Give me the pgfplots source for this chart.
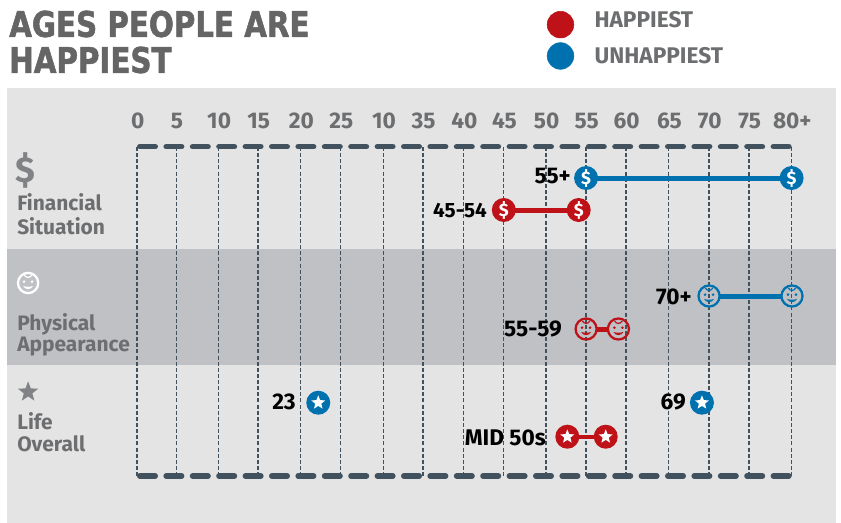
\documentclass[border=0pt]{standalone}
\usepackage{fontspec}
\setmainfont{Fira Sans}[BoldFont={Fira Sans Bold}]
\newfontfamily\titlefont{DejaVu Sans}[FakeStretch=0.83,FakeBold=1.5]
\newfontfamily\firab{Fira Sans Bold}
\usepackage{pgfplots}
\pgfplotsset{compat=1.18}
\usetikzlibrary{plotmarks}
\definecolor{bgl}{HTML}{E4E4E4}
\definecolor{bgd}{HTML}{C0C1C5}
\definecolor{gridc}{HTML}{41525E}
\definecolor{txtg}{HTML}{6D6E70}
\definecolor{ttl}{HTML}{656565}
\definecolor{happy}{HTML}{BE1118}
\definecolor{unhappy}{HTML}{0071AF}
\definecolor{icong}{HTML}{808285}
% plot marks
\pgfdeclareplotmark{dollarc}{%
  \pgfpathcircle{\pgfpointorigin}{\pgfplotmarksize}\pgfusepathqfill
  \pgftext{\color{white}\firab\fontsize{13.5pt}{14pt}\selectfont\$}%
}
\pgfdeclareplotmark{starc}{%
  \pgfpathcircle{\pgfpointorigin}{\pgfplotmarksize}\pgfusepathqfill
  \pgfscope
  \pgfsetfillcolor{white}%
  \pgfpathmoveto{\pgfpointpolar{90}{5.5pt}}%
  \foreach \a/\r in {126/2.4,162/5.5,198/2.4,234/5.5,270/2.4,306/5.5,342/2.4,18/5.5,54/2.4}{\pgfpathlineto{\pgfpointpolar{\a}{\r pt}}}%
  \pgfpathclose\pgfusepathqfill
  \endpgfscope
}
\pgfdeclareplotmark{solidstar}{%
  \pgfpathmoveto{\pgfpointpolar{90}{\pgfplotmarksize}}%
  \pgfmathsetlengthmacro{\rin}{0.42*\pgfplotmarksize}%
  \foreach \a/\r in {126/\rin,162/\pgfplotmarksize,198/\rin,234/\pgfplotmarksize,270/\rin,306/\pgfplotmarksize,342/\rin,18/\pgfplotmarksize,54/\rin}{\pgfpathlineto{\pgfpointpolar{\a}{\r}}}%
  \pgfpathclose\pgfusepathqfill
}
\pgfdeclareplotmark{facec}{%
  \pgfpathcircle{\pgfpointorigin}{\pgfplotmarksize}\pgfusepathqstroke
  \pgfpathcircle{\pgfpoint{-3pt}{1.0pt}}{1.1pt}\pgfpathcircle{\pgfpoint{3pt}{1.0pt}}{1.1pt}\pgfusepathqfill
  \pgfpathmoveto{\pgfpoint{-3.8pt}{-2.2pt}}\pgfpathcurveto{\pgfpoint{-1.6pt}{-3.0pt}}{\pgfpoint{1.6pt}{-3.0pt}}{\pgfpoint{3.8pt}{-2.2pt}}%
  \pgfpathcurveto{\pgfpoint{2.2pt}{-5.4pt}}{\pgfpoint{-2.2pt}{-5.4pt}}{\pgfpoint{-3.8pt}{-2.2pt}}\pgfusepathqfill
  \pgfscope
  \pgfsetlinewidth{0.9pt}%
  \pgfpathmoveto{\pgfpoint{-2.8pt}{6.0pt}}\pgfpathcurveto{\pgfpoint{-1.5pt}{3.6pt}}{\pgfpoint{1.5pt}{3.6pt}}{\pgfpoint{2.8pt}{6.0pt}}\pgfusepathqstroke
  \endpgfscope
}
\begin{document}
\begin{tikzpicture}
\path[use as bounding box] (0pt,0pt) rectangle (630.75pt,-392.25pt);
\begin{scope}[x=0.75pt,y=-0.75pt]
  \fill[bgl] (7,88) rectangle (836,523);
  \fill[bgd] (7,249) rectangle (836,365);
  \node[anchor=west,text=ttl,font=\titlefont\bfseries\fontsize{26.5pt}{27pt}\selectfont,inner sep=0pt] at (9,24) {AGES PEOPLE ARE};
  \node[anchor=west,text=ttl,font=\titlefont\bfseries\fontsize{26.5pt}{27pt}\selectfont,inner sep=0pt] at (9,60) {HAPPIEST};
\end{scope}
\begin{axis}[
  at={(102.75pt,-357pt)},anchor=south west,
  scale only axis,width=491.25pt,height=246.75pt,
  xmin=0,xmax=80,ymin=147,ymax=476,y dir=reverse,
  clip=false,
  axis line style={draw=none},
  major tick length=0pt,
  ytick=\empty,
  xtick={0,4.80,9.95,14.77,20.00,24.88,30.10,34.93,39.90,44.80,49.95,54.85,59.73,64.95,69.87,74.75,79.95},
  xticklabels={0,5,10,15,20,25,10,35,40,45,50,55,60,65,70,75,80+},
  xticklabel pos=upper,
  xticklabel style={font=\firab\fontsize{17pt}{17pt}\selectfont,text=txtg,yshift=10.4pt,xshift=0.5pt},
  xmajorgrids,
  grid style={draw=gridc,line width=0.9pt,dash pattern=on 3pt off 1.6pt},
  legend style={draw=none,fill=none,at={(0.6258,1.0)},anchor=north west,yshift=103.75pt,
    font=\firab\fontsize{17pt}{17pt}\selectfont,text=txtg,row sep=3.5pt,inner sep=0pt,
    legend cell align=left,/tikz/every odd column/.append style={column sep=13.5pt}},
  legend image code/.code={\path[#1] plot coordinates {(0.15cm,0cm)};},
]
\addlegendimage{only marks,mark=*,mark size=10pt,color=happy,yshift=-3pt}
\addlegendentry{HAPPIEST}
\addlegendimage{only marks,mark=*,mark size=10pt,color=unhappy}
\addlegendentry{UNHAPPIEST}
% Financial situation
\addplot[forget plot,color=unhappy,line width=3.75pt,mark=dollarc,mark size=9pt] coordinates {(54.85,178) (79.95,178)};
\addplot[forget plot,color=happy,line width=3.75pt,mark=dollarc,mark size=9pt] coordinates {(44.80,210) (53.95,210)};
% Physical appearance
\addplot[forget plot,color=unhappy,line width=3.75pt,shorten >=8pt,shorten <=8pt,mark=facec,mark size=7.9pt,mark options={line width=1.7pt,fill=unhappy,draw=unhappy}] coordinates {(69.87,296) (80,296)};
\addplot[forget plot,color=happy,line width=3.75pt,shorten >=8pt,shorten <=8pt,mark=facec,mark size=7.9pt,mark options={line width=1.7pt,fill=happy,draw=happy}] coordinates {(54.85,329) (58.8,329)};
% Life overall
\addplot[forget plot,only marks,color=unhappy,mark=starc,mark size=9pt] coordinates {(22.14,402.7) (69,402.7)};
\addplot[forget plot,color=happy,line width=3pt,mark=starc,mark size=9pt] coordinates {(52.56,436.7) (57.25,436.7)};
% side icons
\addplot[forget plot,only marks,mark=facec,mark size=7.6pt,mark options={line width=1.7pt,draw=white,fill=white}] coordinates {(-13.3,283)};
\addplot[forget plot,only marks,mark=solidstar,mark size=8pt,color=icong] coordinates {(-13.3,392)};
\end{axis}
\begin{scope}[x=0.75pt,y=-0.75pt]
  \draw[gridc,line width=4.2pt,line cap=round,dash pattern=on 11.55pt off 8.25pt] (139.8,146.7)--(790,146.7);
  \draw[gridc,line width=4.2pt,line cap=round,dash pattern=on 11.55pt off 8.25pt] (139.8,476)--(790,476);
  \node[text=icong,font=\firab\fontsize{27pt}{27pt}\selectfont,inner sep=0pt] at (25,170) {\$};
  \tikzset{side/.style={anchor=base west,text=txtg,font=\firab\fontsize{15.7pt}{15.7pt}\selectfont,inner sep=0pt}}
  \node[side] at (17,211) {Financial};
  \node[side] at (17,235) {Situation};
  \node[side] at (17,330) {Physical};
  \node[side] at (17,352) {Appearance};
  \node[side] at (17,429) {Life};
  \node[side] at (17,451) {Overall};
  \tikzset{val/.style={anchor=base east,text=black,font=\firab\fontsize{17pt}{17pt}\selectfont,inner sep=0pt}}
  \node[val] at (571,184) {55+};
  \node[val,font=\firab\fontsize{15.5pt}{15.5pt}\selectfont] at (487,218) {45-54};
  \node[val] at (692,305) {70+};
  \node[val] at (562,337) {55-59};
  \node[val] at (296,409) {23};
  \node[val] at (686,409) {69};
  \node[val] at (546,445) {MID 50s};
\end{scope}
\end{tikzpicture}
\end{document}
